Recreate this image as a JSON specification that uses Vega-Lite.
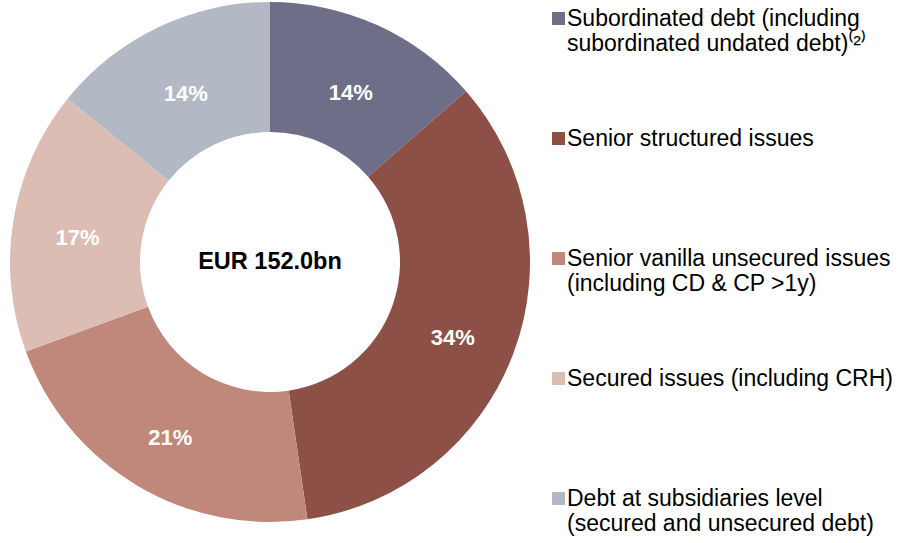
{
  "$schema": "https://vega.github.io/schema/vega-lite/v6.json",
  "width": 540,
  "height": 524,
  "padding": 0,
  "background": "white",
  "config": {"view": {"stroke": null}},
  "data": {
    "values": [
      {"idx": 1, "category": "Subordinated debt (including|subordinated undated debt)⁽²⁾", "value": 13.6, "label": "14%"},
      {"idx": 2, "category": "Senior structured issues|", "value": 34.1, "label": "34%"},
      {"idx": 3, "category": "Senior vanilla unsecured issues|(including CD & CP >1y)", "value": 21.7, "label": "21%"},
      {"idx": 4, "category": "Secured issues (including CRH)|", "value": 16.4, "label": "17%"},
      {"idx": 5, "category": "Debt at subsidiaries level|(secured and unsecured debt)", "value": 14.2, "label": "14%"}
    ]
  },
  "layer": [
    {
      "mark": {"type": "arc", "radius": 260, "radius2": 130},
      "encoding": {
        "theta": {"field": "value", "type": "quantitative", "stack": true},
        "order": {"field": "idx", "type": "quantitative"},
        "color": {
          "field": "category",
          "type": "nominal",
          "scale": {
            "domain": [
              "Subordinated debt (including|subordinated undated debt)⁽²⁾",
              "Senior structured issues|",
              "Senior vanilla unsecured issues|(including CD & CP >1y)",
              "Secured issues (including CRH)|",
              "Debt at subsidiaries level|(secured and unsecured debt)"
            ],
            "range": ["#6E6E88", "#8C5047", "#C0887A", "#DCBDB4", "#B2B9C5"]
          },
          "legend": {
            "title": null,
            "orient": "right",
            "offset": 0,
            "padding": 7,
            "symbolType": "square",
            "symbolSize": 169,
            "symbolStrokeWidth": 0,
            "symbolOpacity": 1,
            "labelFont": "Liberation Sans",
            "labelFontSize": 23,
            "labelColor": "black",
            "labelLimit": 400,
            "labelOffset": -3,
            "rowPadding": 71,
            "labelBaseline": "middle",
            "labelExpr": "split(datum.label, '|')",
            "encode": {
              "labels": {"update": {"lineHeight": {"value": 25}}}
            }
          }
        }
      }
    },
    {
      "mark": {"type": "text", "radius": 195, "dy": 8, "font": "Liberation Sans", "fontSize": 22, "fontWeight": "bold", "fill": "white"},
      "encoding": {
        "theta": {"field": "value", "type": "quantitative", "stack": true},
        "order": {"field": "idx", "type": "quantitative"},
        "text": {"field": "label"}
      }
    },
    {
      "data": {"values": [{"t": "EUR 152.0bn"}]},
      "mark": {"type": "text", "font": "Liberation Sans", "fontSize": 23.5, "fontWeight": "bold", "fill": "black", "baseline": "middle"},
      "encoding": {"text": {"field": "t"}}
    }
  ]
}
